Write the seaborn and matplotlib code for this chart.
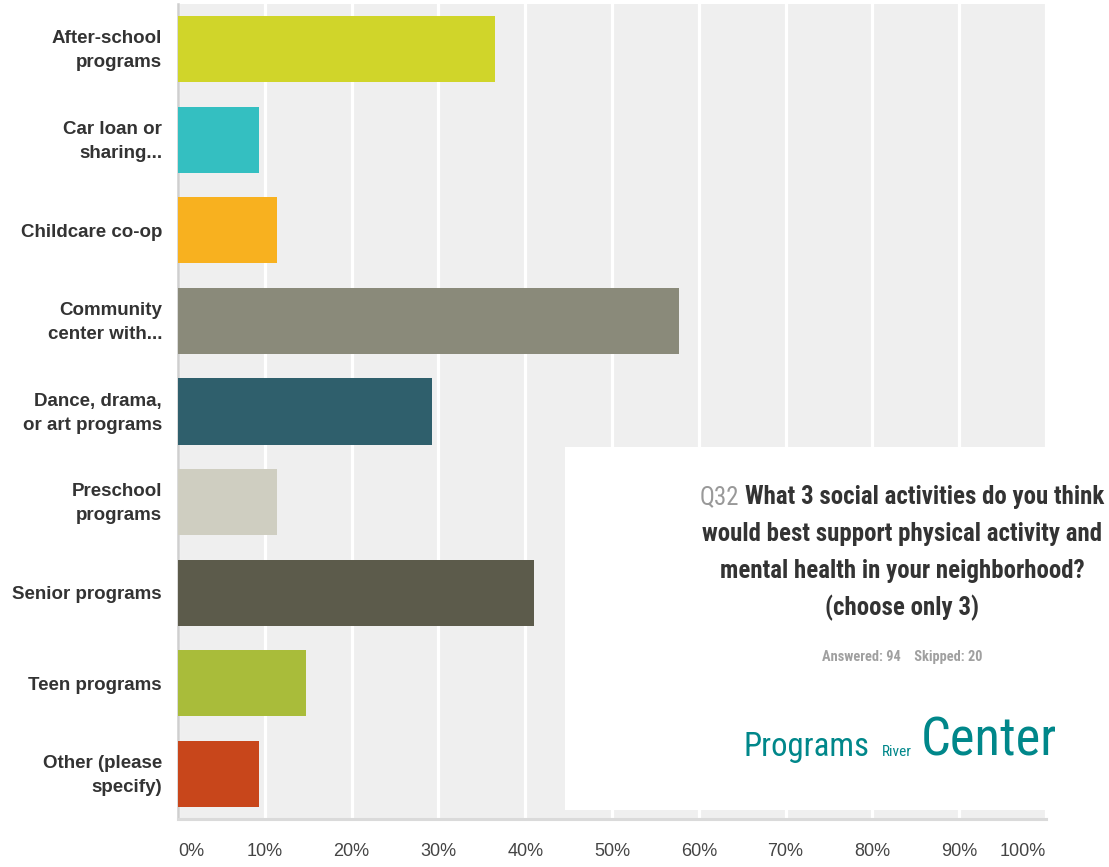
import numpy as np
import pandas as pd
import seaborn as sns
import matplotlib
matplotlib.use("Agg")
import matplotlib.pyplot as plt
from matplotlib.patches import Rectangle
from matplotlib.transforms import ScaledTranslation

# data (percent of respondents)
labels = ["After-school\nprograms", "Car loan or\nsharing...", "Childcare co-op",
          "Community\ncenter with...", "Dance, drama,\nor art programs",
          "Preschool\nprograms", "Senior programs", "Teen programs",
          "Other (please\nspecify)"]
percents = [36.5, 9.3, 11.4, 57.7, 29.3, 11.4, 41.0, 14.7, 9.3]
bar_colors = ["#D0D52A", "#34BFC1", "#F8B11F", "#8A8A7A", "#2F5F6C",
              "#CFCEC1", "#5C5B4B", "#A9BC3A", "#C8461B"]
xticks = [0, 10, 20, 30, 40, 50, 60, 70, 80, 90, 100]
title_q = "Q32"
title_lines = ["What 3 social activities do you think",
               "would best support physical activity and",
               "mental health in your neighborhood?",
               "(choose only 3)"]
answered = "Answered: 94    Skipped: 20"

df = pd.DataFrame({"label": labels, "pct": percents})

sns.set_theme(style="white")
narrow = ["Roboto Condensed", "Archivo Narrow", "PT Sans Narrow", "Fira Sans Condensed", "DejaVu Sans"]
plt.rcParams["font.family"] = ["Liberation Sans", "DejaVu Sans"]

W, H = 1109, 867
fig = plt.figure(figsize=(W/100, H/100), dpi=100)
ax = fig.add_axes([178/W, 1-819/H, (1046-178)/W, (819-4)/H])
ax.set_facecolor("#EFEFEF")

sns.barplot(data=df, y="label", x="pct", hue="label", palette=bar_colors,
            orient="h", width=0.73, legend=False, saturation=1, ax=ax,
            linewidth=0, edgecolor="none", zorder=3)

ax.set_xlim(0, 100)
ax.set_ylim(8.5, -0.5)
ax.set_xticks(xticks)
ax.set_xticklabels([f"{t}%" for t in xticks], fontsize=13, color="#444444")
ax.tick_params(axis="x", length=0, pad=17)
ax.tick_params(axis="y", length=0, pad=11.5)
shift_up = ScaledTranslation(0, 4/100, fig.dpi_scale_trans)
for t in ax.get_yticklabels():
    t.set_fontweight("bold")
    t.set_fontsize(13.5)
    t.set_color("#333333")
    t.set_linespacing(1.55)
    if "\n" in t.get_text():
        t.set_transform(t.get_transform() + shift_up)
xl = ax.get_xticklabels()
xl[0].set_ha("left")
xl[-1].set_ha("right")
ax.set_xlabel("")
ax.set_ylabel("")
ax.grid(axis="x", color="white", linewidth=2.3, zorder=1)
ax.set_axisbelow(True)
for s in ["top", "right"]:
    ax.spines[s].set_visible(False)
ax.spines["left"].set_color("#CFCFCF")
ax.spines["left"].set_linewidth(1.8)
ax.spines["bottom"].set_color("#DADADA")
ax.spines["bottom"].set_linewidth(2.2)

# white box with the question
box = Rectangle((565/W, 1-810/H), 1-565/W, (810-447)/H,
                transform=fig.transFigure, facecolor="white", edgecolor="none", zorder=5)
fig.add_artist(box)

renderer = fig.canvas.get_renderer()


def fit(txt, width_px):
    # scale the font so the text spans width_px pixels
    w = txt.get_window_extent(renderer).width
    txt.set_fontsize(txt.get_fontsize() * width_px / w)


cx = 902/W
ys = [497, 534, 571, 608]
lines = []
for line, y in zip(title_lines, ys):
    t = fig.text(cx, 1-y/H, line, ha="center", va="center", family=narrow,
                 fontweight="bold", fontsize=16, color="#333333", zorder=6)
    lines.append(t)
fit(lines[1], 400)
fs = lines[1].get_fontsize()
for t in lines:
    t.set_fontsize(fs)
tq = fig.text(0, 1-ys[0]/H, title_q, ha="left", va="center", family=narrow,
              fontsize=fs, color="#999999", zorder=6)
wq = tq.get_window_extent(renderer).width
w1 = lines[0].get_window_extent(renderer).width
gap = 6
left = 902 - (wq + gap + w1) / 2
tq.set_x(left/W)
lines[0].set_ha("left")
lines[0].set_x((left + wq + gap)/W)

ta = fig.text(cx, 1-657/H, answered, ha="center", va="center", family=narrow,
              fontweight="bold", fontsize=9.5, color="#A0A0A0", zorder=6)
fit(ta, 160)

# logo
teal = "#00878A"
tp = fig.text(743/W, 1-756/H, "Programs", ha="left", va="baseline", family=narrow,
              fontsize=30, color=teal, zorder=6)
fit(tp, 126)
tr = fig.text(882/W, 1-756/H, "River", ha="left", va="baseline", family=narrow,
              fontsize=11, color=teal, zorder=6)
fit(tr, 30)
tc = fig.text(921/W, 1-756/H, "Center", ha="left", va="baseline", family=narrow,
              fontsize=40, color=teal, zorder=6)
fit(tc, 136)

fig.savefig("out.png", dpi=100, facecolor="white")
